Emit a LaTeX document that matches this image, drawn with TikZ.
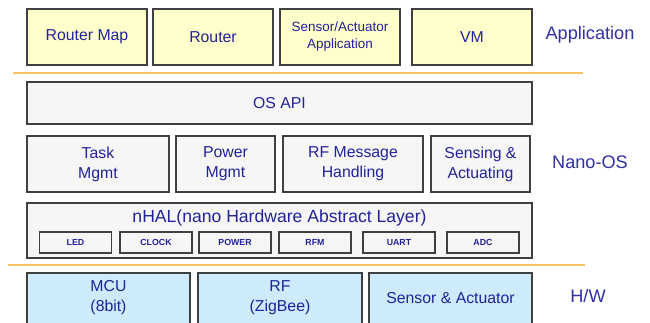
\documentclass[tikz,border=0pt]{standalone}
\usepackage{fontspec}
\setmainfont{Liberation Sans}
\usepackage{xcolor}
\usetikzlibrary{positioning}

\definecolor{txtblue}{HTML}{22229A}
\definecolor{lblblue}{HTML}{3030A8}
\definecolor{appfill}{HTML}{FFFFCC}
\definecolor{osfill}{HTML}{F6F6F6}
\definecolor{hwfill}{HTML}{CDEBFB}
\definecolor{sepline}{HTML}{F8C462}

\begin{document}
\begin{tikzpicture}[
  x=0.03cm, y=-0.03cm,
  layer/.style = {draw=black!75, line width=0.9pt, align=center,
                  text=txtblue, inner sep=1pt,
                  font=\fontsize{13.5}{17}\selectfont},
  appbox/.style = {layer, fill=appfill, minimum width=3.6cm, minimum height=1.68cm},
  osbox/.style  = {layer, fill=osfill, minimum height=1.68cm},
  hwbox/.style  = {layer, fill=hwfill, minimum height=1.95cm},
  hwtext/.style = {align=center, text=txtblue, inner sep=1pt,
                   font=\fontsize{13.5}{17}\selectfont},
  halbox/.style = {draw=black!75, line width=0.9pt, fill=osfill,
                   minimum width=2.16cm, minimum height=0.63cm,
                   text=txtblue, font=\fontsize{7.5}{8}\selectfont\bfseries},
  tier/.style   = {text=lblblue, font=\fontsize{15.5}{18}\selectfont},
  sep/.style    = {draw=sepline, line width=1.5pt},
]
\useasboundingbox (0,0) rectangle (650,322);
\clip (0,0) rectangle (650,322);

% Application layer
\node[appbox] (rmap)   at (87,37)  {Router Map};
\node[appbox] (router) at (213,37) {Router};
\node[appbox, font=\fontsize{11.5}{14.5}\selectfont] (sapp) at (340,37) {Sensor/Actuator\\Application};
\node[appbox] (vm)     at (472,37) {VM};
\node[tier] (tapp) at (590,35) {Application};

\coordinate (s1a) at (13,73);
\coordinate (s1b) at (583,73);
\draw[sep] (s1a) -- (s1b);

% Nano-OS layer
\node[osbox, minimum width=15.15cm, minimum height=1.26cm] (osapi) at (279.5,103) {OS API};
\node[osbox, minimum width=4.26cm] (task)  at (98,164)    {Task\\Mgmt};
\node[osbox, minimum width=2.97cm] (power) at (225.5,164) {Power\\Mgmt};
\node[osbox, minimum width=4.2cm]  (rfmsg) at (353,164)   {RF Message\\Handling};
\node[osbox, minimum width=2.97cm] (sense) at (480.5,164) {Sensing \&\\Actuating};
\node[tier] (tos) at (590,162) {Nano-OS};

% nHAL
\node[osbox, minimum width=15.15cm, minimum height=1.65cm] (nhal) at (279.5,230.5) {};
\node[text=txtblue, font=\fontsize{15}{17}\selectfont] (nhaltitle) at (279.5,218)
  {nHAL(nano Hardware Abstract Layer)};
\node[halbox] (led)   at (75.5,242.5) {LED};
\node[halbox] (clock) at (156,242.5)  {CLOCK};
\node[halbox] (pwr)   at (235,242.5)  {POWER};
\node[halbox] (rfm)   at (315,242.5)  {RFM};
\node[halbox] (uart)  at (399,242.5)  {UART};
\node[halbox] (adc)   at (483,242.5)  {ADC};

\coordinate (s2a) at (8,265);
\coordinate (s2b) at (585,265);
\draw[sep] (s2a) -- (s2b);

% H/W layer (boxes run past the lower edge)
\node[hwbox, minimum width=4.89cm] (mcu)  at (108.5,305.5) {};
\node[hwbox, minimum width=4.92cm] (rf)   at (280,305.5)   {};
\node[hwbox, minimum width=4.89cm] (sact) at (450.5,305.5) {};
\node[hwtext] (mcutxt)  at (108.5,298) {MCU\\(8bit)};
\node[hwtext] (rftxt)   at (280,298)   {RF\\(ZigBee)};
\node[hwtext] (sacttxt) at (450.5,298) {Sensor \& Actuator};
\node[tier] (thw) at (588,296) {H/W};
\end{tikzpicture}
\end{document}
